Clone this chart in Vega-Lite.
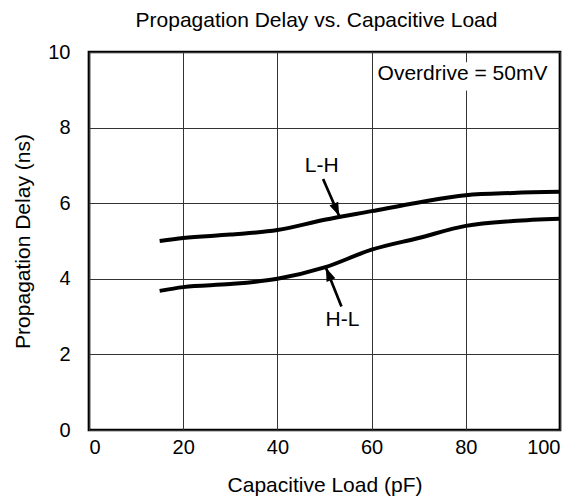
{
  "$schema": "https://vega.github.io/schema/vega-lite/v6.json",
  "width": 471,
  "height": 378,
  "autosize": {"type": "none"},
  "padding": {"left": 89, "top": 52, "right": 20, "bottom": 70},
  "background": "white",
  "config": {
    "font": "Liberation Sans",
    "view": {"stroke": "black", "strokeWidth": 2.7},
    "axis": {"grid": true, "gridColor": "#333", "gridWidth": 1, "gridOpacity": 1, "domain": false, "ticks": false, "labelFontSize": 20, "labelColor": "black", "titleFontSize": 21, "titleFontWeight": "normal", "titleColor": "black", "labelFont": "Liberation Sans", "titleFont": "Liberation Sans"}
  },
  "title": {"text": "Propagation Delay vs. Capacitive Load", "fontSize": 21, "fontWeight": "normal", "font": "Liberation Sans", "color": "black", "offset": 11, "dx": -8},
  "datasets": {
    "curves": [
      {"load": 15, "delay": 5.0, "edge": "L-H"},
      {"load": 20, "delay": 5.08, "edge": "L-H"},
      {"load": 30, "delay": 5.17, "edge": "L-H"},
      {"load": 40, "delay": 5.29, "edge": "L-H"},
      {"load": 50, "delay": 5.56, "edge": "L-H"},
      {"load": 60, "delay": 5.79, "edge": "L-H"},
      {"load": 70, "delay": 6.02, "edge": "L-H"},
      {"load": 80, "delay": 6.21, "edge": "L-H"},
      {"load": 90, "delay": 6.27, "edge": "L-H"},
      {"load": 100, "delay": 6.3, "edge": "L-H"},
      {"load": 15, "delay": 3.68, "edge": "H-L"},
      {"load": 20, "delay": 3.78, "edge": "H-L"},
      {"load": 30, "delay": 3.86, "edge": "H-L"},
      {"load": 40, "delay": 4.0, "edge": "H-L"},
      {"load": 50, "delay": 4.3, "edge": "H-L"},
      {"load": 60, "delay": 4.77, "edge": "H-L"},
      {"load": 70, "delay": 5.08, "edge": "H-L"},
      {"load": 80, "delay": 5.4, "edge": "H-L"},
      {"load": 90, "delay": 5.53, "edge": "H-L"},
      {"load": 100, "delay": 5.59, "edge": "H-L"}
    ],
    "arrows": [
      {"edge": "L-H", "x": 49.7, "y": 6.64, "x2": 53.1, "y2": 5.67, "lx": 49.4, "ly": 6.99},
      {"edge": "H-L", "x": 53.6, "y": 3.27, "x2": 50.3, "y2": 4.29, "lx": 53.8, "ly": 2.91}
    ],
    "notes": [
      {"text": "Overdrive = 50mV", "x": 79.3, "y": 9.42, "bx": 79, "bx2": 81, "by": 8.98, "by2": 9.73}
    ]
  },
  "layer": [
    {
      "data": {"name": "notes"},
      "mark": {"type": "rect", "fill": "white"},
      "encoding": {
        "x": {"field": "bx", "type": "quantitative", "scale": {"domain": [0, 100]}, "axis": {"title": "Capacitive Load (pF)", "values": [0, 20, 40, 60, 80, 100], "labelPadding": 7, "titlePadding": 17}},
        "x2": {"field": "bx2"},
        "y": {"field": "by", "type": "quantitative", "scale": {"domain": [0, 10]}, "axis": {"title": "Propagation Delay (ns)", "values": [0, 2, 4, 6, 8, 10], "labelPadding": 19, "titlePadding": 14}},
        "y2": {"field": "by2"}
      }
    },
    {
      "data": {"name": "notes"},
      "mark": {"type": "text", "fontSize": 21, "font": "Liberation Sans", "color": "black", "align": "center", "baseline": "middle"},
      "encoding": {
        "x": {"field": "x", "type": "quantitative"},
        "y": {"field": "y", "type": "quantitative"},
        "text": {"field": "text"}
      }
    },
    {
      "data": {"name": "curves"},
      "mark": {"type": "line", "color": "black", "strokeWidth": 4, "interpolate": "monotone", "clip": true},
      "encoding": {
        "x": {"field": "load", "type": "quantitative"},
        "y": {"field": "delay", "type": "quantitative"},
        "detail": {"field": "edge"}
      }
    },
    {
      "data": {"name": "arrows"},
      "mark": {"type": "rule", "color": "black", "strokeWidth": 2.7},
      "encoding": {
        "x": {"field": "x", "type": "quantitative"},
        "y": {"field": "y", "type": "quantitative"},
        "x2": {"field": "x2"},
        "y2": {"field": "y2"}
      }
    },
    {
      "data": {"name": "arrows"},
      "transform": [{"filter": "datum.edge === 'L-H'"}],
      "mark": {"type": "point", "shape": "M0,0L0.36,1L-0.36,1Z", "filled": true, "color": "black", "opacity": 1, "size": 700, "strokeWidth": 0, "angle": 156.6},
      "encoding": {
        "x": {"field": "x2", "type": "quantitative"},
        "y": {"field": "y2", "type": "quantitative"}
      }
    },
    {
      "data": {"name": "arrows"},
      "transform": [{"filter": "datum.edge === 'H-L'"}],
      "mark": {"type": "point", "shape": "M0,0L0.36,1L-0.36,1Z", "filled": true, "color": "black", "opacity": 1, "size": 700, "strokeWidth": 0, "angle": 337.5},
      "encoding": {
        "x": {"field": "x2", "type": "quantitative"},
        "y": {"field": "y2", "type": "quantitative"}
      }
    },
    {
      "data": {"name": "arrows"},
      "mark": {"type": "text", "fontSize": 21, "font": "Liberation Sans", "color": "black", "align": "center", "baseline": "middle"},
      "encoding": {
        "x": {"field": "lx", "type": "quantitative"},
        "y": {"field": "ly", "type": "quantitative"},
        "text": {"field": "edge"}
      }
    }
  ]
}
